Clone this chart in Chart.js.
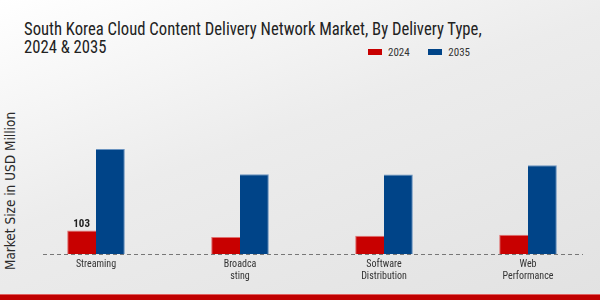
<!DOCTYPE html>
<html>
<head>
<meta charset="utf-8">
<script src="https://cdn.jsdelivr.net/npm/chart.js@4"></script>
<style>
  html, body { margin: 0; padding: 0; }
  body {
    width: 600px; height: 300px; overflow: hidden; position: relative;
    background: linear-gradient(160deg, #ffffff 0%, #ececec 45%, #e2e2e2 100%);
    font-family: "Roboto Condensed", "DejaVu Sans Condensed", sans-serif; font-weight: 400;
  }
  #title {
    position: absolute; left: 24px; top: 20px; font-size: 18.5px; line-height: 18px;
    color: #222; white-space: nowrap; transform-origin: 0 0;
  }
  #ytitle {
    position: absolute; left: 10px; top: 191px; font-family: "DejaVu Sans Condensed", "DejaVu Sans", sans-serif;
    font-size: 13.5px; color: #2a2a2a; transform: translate(-50%, -50%) rotate(-90deg);
    white-space: nowrap;
  }
  #legend { position: absolute; top: 46px; left: 368px; font-size: 11px; color: #333; white-space: nowrap; }
  #legend span.box { display: inline-block; width: 14px; height: 6px; margin-right: 6px; vertical-align: 1px; }
  #legend span.item { margin-right: 16px; }
  #band { position: absolute; left: 0; bottom: 0; width: 600px; height: 5px; background: #c00000; border-top: 1px solid #e06060; }
  #wrap { position: absolute; left: 0; top: 0; width: 600px; height: 300px; }
</style>
</head>
<body>
<div id="title">South Korea Cloud Content Delivery Network Market, By Delivery Type,<br>2024 &amp; 2035</div>
<div id="ytitle">Market Size in USD Million</div>
<div id="legend">
  <span class="item"><span class="box" style="background:#c80000"></span>2024</span>
  <span class="item"><span class="box" style="background:#004488"></span>2035</span>
</div>
<div id="band"></div>
<div id="wrap"><canvas id="chart" width="600" height="300"></canvas></div>
<script>
const categories = [['Streaming'], ['Broadca', 'sting'], ['Software', 'Distribution'], ['Web', 'Performance']];
const values2024 = [103, 75, 80, 84];
const values2035 = [461, 350, 349, 389];
const shownLabels2024 = ['103', '', '', ''];

// squeeze the title's first line to the reference width
const title = document.getElementById('title');
const probe = document.createElement('canvas').getContext('2d');
probe.font = '18.5px "Roboto Condensed", "DejaVu Sans Condensed", sans-serif';
const w = probe.measureText('South Korea Cloud Content Delivery Network Market, By Delivery Type,').width;
title.style.transform = 'scaleX(' + (458 / w) + ')';

// dashed baseline across the plot, drawn at y = 0
const baseline = {
  id: 'baseline',
  beforeDatasetsDraw(chart) {
    const ctx = chart.ctx;
    const y = Math.round(chart.scales.y.getPixelForValue(0));
    ctx.save();
    ctx.strokeStyle = '#777';
    ctx.lineWidth = 1;
    ctx.setLineDash([4, 3]);
    ctx.beginPath();
    ctx.moveTo(43, y + 0.5);
    ctx.lineTo(583, y + 0.5);
    ctx.stroke();
    ctx.restore();
  }
};

const valueLabels = {
  id: 'valueLabels',
  afterDatasetsDraw(chart) {
    const ctx = chart.ctx;
    const meta = chart.getDatasetMeta(0);
    ctx.save();
    ctx.font = 'bold 11px "Roboto Condensed", "DejaVu Sans Condensed", sans-serif';
    ctx.fillStyle = '#222';
    ctx.textAlign = 'center';
    ctx.textBaseline = 'bottom';
    meta.data.forEach((bar, i) => {
      if (shownLabels2024[i]) ctx.fillText(shownLabels2024[i], bar.x, bar.y - 1);
    });
    ctx.restore();
  }
};

let canvas = document.getElementById('chart');
let chart = new Chart(canvas.getContext('2d'), {
  type: 'bar',
  data: {
    labels: categories,
    datasets: [
      { label: '2024', data: values2024, backgroundColor: '#c80000', borderColor: '#e07070', borderWidth: { top: 1, left: 1, right: 0, bottom: 0 } },
      { label: '2035', data: values2035, backgroundColor: '#004488', borderColor: '#6a93c0', borderWidth: { top: 1, left: 0, right: 1, bottom: 0 } }
    ]
  },
  options: {
    responsive: false,
    animation: false,
    layout: { padding: { left: 24, right: 0, top: 117, bottom: 14 } },
    plugins: { legend: { display: false }, tooltip: { enabled: false } },
    datasets: { bar: { categoryPercentage: 0.4, barPercentage: 1 } },
    scales: {
      x: {
        grid: { display: false, drawTicks: false },
        border: { display: false },
        ticks: { color: '#333', font: { family: '"Roboto Condensed", "DejaVu Sans Condensed", sans-serif', size: 10, lineHeight: 1.2 }, padding: 4, maxRotation: 0, autoSkip: false }
      },
      y: {
        display: false,
        min: 0, max: 601
      }
    }
  },
  plugins: [baseline, valueLabels]
});
</script>
</body>
</html>
